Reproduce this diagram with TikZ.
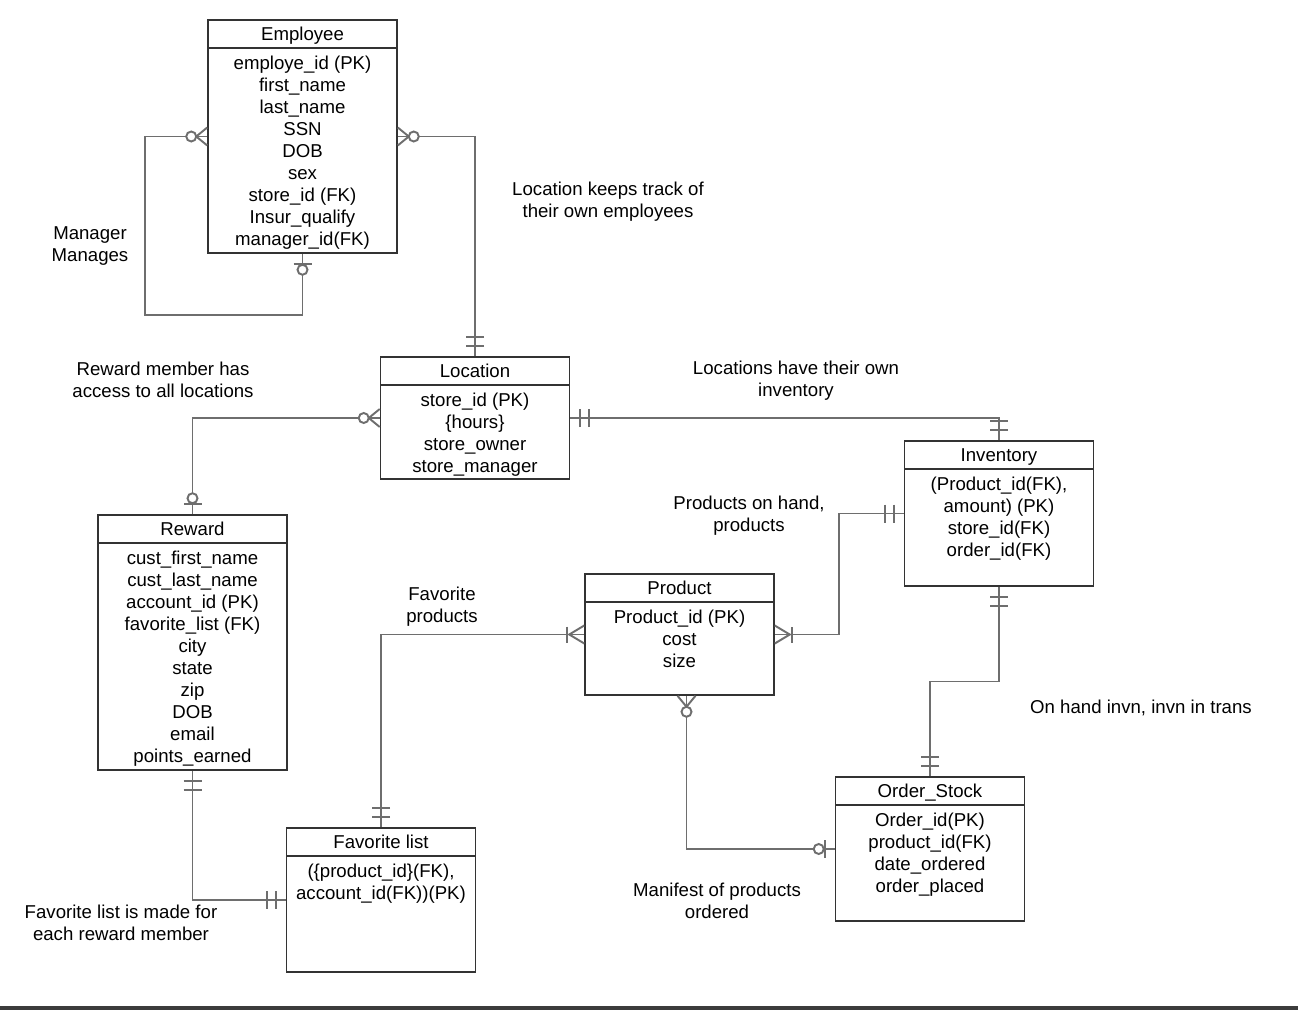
\documentclass[tikz,border=0pt]{standalone}
\usepackage{fontspec}
\setmainfont{Liberation Sans}
\usepackage{tikz}
\usetikzlibrary{calc}
\definecolor{boxline}{RGB}{51,51,51}
\definecolor{relline}{RGB}{110,110,110}
\definecolor{rulegray}{RGB}{60,60,60}
\tikzset{
  entity/.style={rectangle, draw=boxline, line width=0.9pt,
    minimum width=3.78cm, inner sep=0pt},
  enthead/.style={rectangle, draw=boxline, line width=0.9pt,
    minimum width=3.78cm, minimum height=0.56cm, inner sep=0pt, anchor=north,
    text height=7.5pt, text depth=0pt},
  attrs/.style={anchor=north, align=center, inner ysep=4pt},
  note/.style={align=center},
  rel/.style={draw=relline, line width=1.1pt},
  sym/.style={draw=relline, line width=1.1pt},
  % zero or many
  pics/zmany/.style={code={
    \draw[sym] (0,9) -- (11,0) -- (0,-9);
    \draw[sym, fill=white] (16,0) circle[radius=0.1cm];
  }},
  % one or many
  pics/onemany/.style={code={
    \draw[sym] (0,9) -- (15,0) -- (0,-9);
    \draw[sym] (17,8) -- (17,-8);
  }},
  % one and only one
  pics/oneone/.style={code={
    \draw[sym] (10,9) -- (10,-9);
    \draw[sym] (19,9) -- (19,-9);
  }},
  % zero or one
  pics/zone/.style={code={
    \draw[sym] (10,9) -- (10,-9);
    \draw[sym, fill=white] (16,0) circle[radius=0.1cm];
  }}
}

\begin{document}
\begin{tikzpicture}[x=0.02cm, y=-0.02cm, font=\fontsize{10.6}{12.5}\selectfont]
  \useasboundingbox (0,0) rectangle (1298,1010);

  % entities
  \node[entity, minimum height=4.66cm] (emp) at (302.5,136.5) {};
  \node[enthead] (empH) at (emp.north) {Employee};
  \node[attrs] at (empH.south) {employe\_id (PK)\\first\_name\\last\_name\\SSN\\DOB\\sex\\store\_id (FK)\\Insur\_qualify\\manager\_id(FK)};

  \node[entity, minimum height=2.44cm] (loc) at (475,418) {};
  \node[enthead] (locH) at (loc.north) {Location};
  \node[attrs] at (locH.south) {store\_id (PK)\\\{hours\}\\store\_owner\\store\_manager};

  \node[entity, minimum height=5.10cm] (rew) at (192.5,642.5) {};
  \node[enthead] (rewH) at (rew.north) {Reward};
  \node[attrs] at (rewH.south) {cust\_first\_name\\cust\_last\_name\\account\_id (PK)\\favorite\_list (FK)\\city\\state\\zip\\DOB\\email\\points\_earned};

  \node[entity, minimum height=2.88cm] (fav) at (381,900) {};
  \node[enthead] (favH) at (fav.north) {Favorite list};
  \node[attrs] at (favH.south) {(\{product\_id\}(FK),\\account\_id(FK))(PK)};

  \node[entity, minimum height=2.42cm] (prod) at (679.5,634.5) {};
  \node[enthead] (prodH) at (prod.north) {Product};
  \node[attrs] at (prodH.south) {Product\_id (PK)\\cost\\size};

  \node[entity, minimum height=2.90cm] (inv) at (999,513.5) {};
  \node[enthead] (invH) at (inv.north) {Inventory};
  \node[attrs] at (invH.south) {(Product\_id(FK),\\amount) (PK)\\store\_id(FK)\\order\_id(FK)};

  \node[entity, minimum height=2.88cm] (ord) at (930,849) {};
  \node[enthead] (ordH) at (ord.north) {Order\_Stock};
  \node[attrs] at (ordH.south) {Order\_id(PK)\\product\_id(FK)\\date\_ordered\\order\_placed};

  % relationships
  \draw[rel] (emp.west) -| (145,315) -| (emp.south);
  \draw[rel] (emp.east) -| (loc.north);
  \draw[rel] (loc.west) -| (rew.north);
  \draw[rel] (loc.east) -| (inv.north);
  \draw[rel] (inv.west) -| ($(prod.east)!.5!(inv.west)$) |- (prod.east);
  \draw[rel] (prod.west) -| (fav.north);
  \draw[rel] (rew.south) |- (fav.west);
  \draw[rel] (inv.south) |- ($(inv.south)!.5!(ord.north)$) -| (ord.north);
  \draw[rel] ($(prod.south)+(7,0)$) |- (ord.west);

  % cardinality marks
  \pic[rotate=180] at (emp.west) {zmany};
  \pic[rotate=-90] at (emp.south) {zone};
  \pic at (emp.east) {zmany};
  \pic[rotate=90] at (loc.north) {oneone};
  \pic[rotate=180] at (loc.west) {zmany};
  \pic[rotate=90] at (rew.north) {zone};
  \pic at (loc.east) {oneone};
  \pic[rotate=90] at (inv.north) {oneone};
  \pic[rotate=180] at (inv.west) {oneone};
  \pic at (prod.east) {onemany};
  \pic[rotate=180] at (prod.west) {onemany};
  \pic[rotate=90] at (fav.north) {oneone};
  \pic[rotate=-90] at (rew.south) {oneone};
  \pic[rotate=180] at (fav.west) {oneone};
  \pic[rotate=-90] at (inv.south) {oneone};
  \pic[rotate=90] at (ord.north) {oneone};
  \pic[rotate=-90] at ($(prod.south)+(7,0)$) {zmany};
  \pic[rotate=180] at (ord.west) {zone};

  % notes
  \node[note] (nMgr) at (90,246) {Manager\\Manages};
  \node[note] (nEmp) at (608,202) {Location keeps track of\\their own employees};
  \node[note] (nRew) at (163,380) {Reward member has\\access to all locations};
  \node[note] (nInv) at (796,381) {Locations have their own\\inventory};
  \node[note] (nHand) at (749,516) {Products on hand,\\products};
  \node[note] (nFav) at (442,607) {Favorite\\products};
  \node[note] (nTrans) at (1141,708) {On hand invn, invn in trans};
  \node[note] (nMan) at (717,901) {Manifest of products\\ordered};
  \node[note] (nList) at (121,923) {Favorite list is made for\\each reward member};

  \fill[rulegray] (0,1006) rectangle (1298,1010);
\end{tikzpicture}
\end{document}
